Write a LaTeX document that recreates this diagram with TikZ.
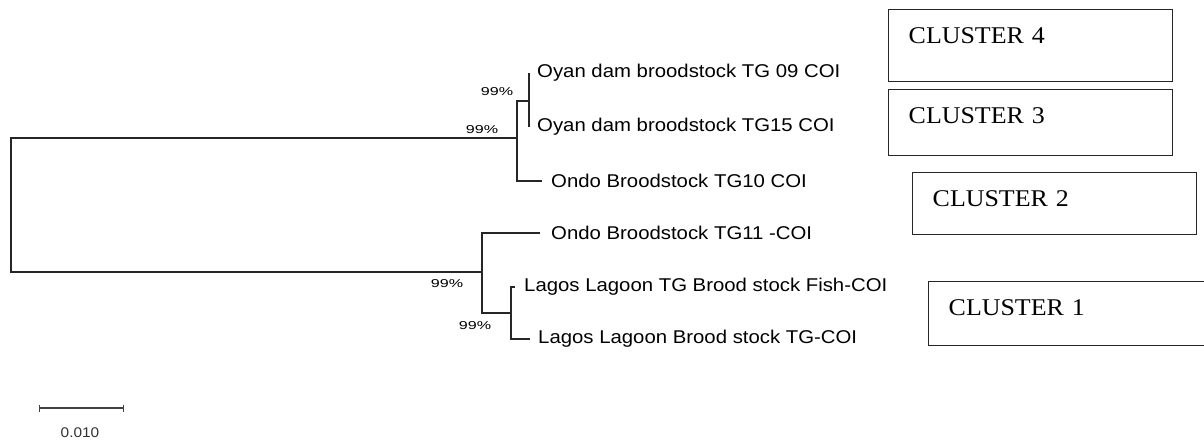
\documentclass[tikz,border=0pt]{standalone}
\usepackage{fontspec}
\usetikzlibrary{positioning,arrows.meta}
\newfontfamily\leaffont[FakeStretch=1.1]{Liberation Sans}
\newfontfamily\bsfont[FakeStretch=1.4]{Liberation Sans}
\newfontfamily\clusterfont[FakeStretch=1.08]{Liberation Serif}
\tikzset{
  branch/.style={black!85, line width=1.3pt},
  leaf/.style={inner sep=0pt, font=\leaffont\fontsize{18.5}{20}\selectfont},
  boot/.style={inner sep=0pt, font=\bsfont\fontsize{11.5}{12}\selectfont},
  clusterbox/.style={draw=black!85, line width=1.4pt, anchor=north west, inner xsep=20pt, inner ysep=0pt,
    text height=34pt, align=left, font=\clusterfont\fontsize{24}{26}\selectfont}
}
\begin{document}
\begin{tikzpicture}[x=1pt, y=-1pt, node distance=8pt]
    \useasboundingbox (0,0) rectangle (1204,443);

    % Inner nodes of the tree
    \coordinate (root) at (11,207);
    \coordinate (nUp) at (517,138);
    \coordinate (nLow) at (482,272);
    \coordinate (nOyan) at (529,101);
    \coordinate (nLagos) at (511,313);

    % Tips
    \coordinate (tTG09) at (529,73);
    \coordinate (tTG15) at (529,127);
    \coordinate (tTG10) at (542,181);
    \coordinate (tTG11) at (540,233);
    \coordinate (tFish) at (515,287);
    \coordinate (tLagTG) at (530,339);

    % Branches
    \draw[branch] (nUp) -| (root) |- (nLow);
    \draw[branch] (nOyan) -| (nUp) |- (tTG10);
    \draw[branch] (tTG09) -- (tTG15);
    \draw[branch] (tTG11) -| (nLow) |- (nLagos);
    \draw[branch] (tFish) -| (nLagos) |- (tLagTG);

    % Leaf labels
    \node[leaf, right=of tTG09] (lTG09) {Oyan dam broodstock TG 09 COI};
    \node[leaf, right=of tTG15] (lTG15) {Oyan dam broodstock TG15 COI};
    \node[leaf, right=9pt of tTG10] (lTG10) {Ondo Broodstock TG10 COI};
    \node[leaf, right=11pt of tTG11] (lTG11) {Ondo Broodstock TG11 -COI};
    \node[leaf, right=9pt of tFish] (lFish) {Lagos Lagoon TG Brood stock Fish-COI};
    \node[leaf, right=of tLagTG] (lLagTG) {Lagos Lagoon Brood stock TG-COI};

    % Bootstrap values
    \node[boot] (bsOyan) at (497,92) {99\%};
    \node[boot] (bsUp) at (482,130) {99\%};
    \node[boot] (bsLow) at (447,284) {99\%};
    \node[boot] (bsLagos) at (475,326) {99\%};

    % Cluster boxes
    \node[clusterbox, text width=244pt, text depth=38pt] (c4) at (888,9) {CLUSTER 4};
    \node[clusterbox, text width=244pt, text depth=32pt] (c3) at (888,89) {CLUSTER 3};
    \node[clusterbox, text width=244pt, text depth=28pt] (c2) at (912,172) {CLUSTER 2};
    \node[clusterbox, text width=260pt, text depth=30pt] (c1) at (928,281) {CLUSTER 1};

    % Scale bar
    \coordinate (sbL) at (39,408);
    \coordinate (sbR) at (124,408);
    \draw[black!75, line width=1.2pt, {Bar[width=7pt]}-{Bar[width=7pt]}] (sbL) -- (sbR);
    \node[black!80, inner sep=0pt, font=\leaffont\fontsize{14}{15}\selectfont] (sbText) at (80,433) {0.010};
\end{tikzpicture}
\end{document}
